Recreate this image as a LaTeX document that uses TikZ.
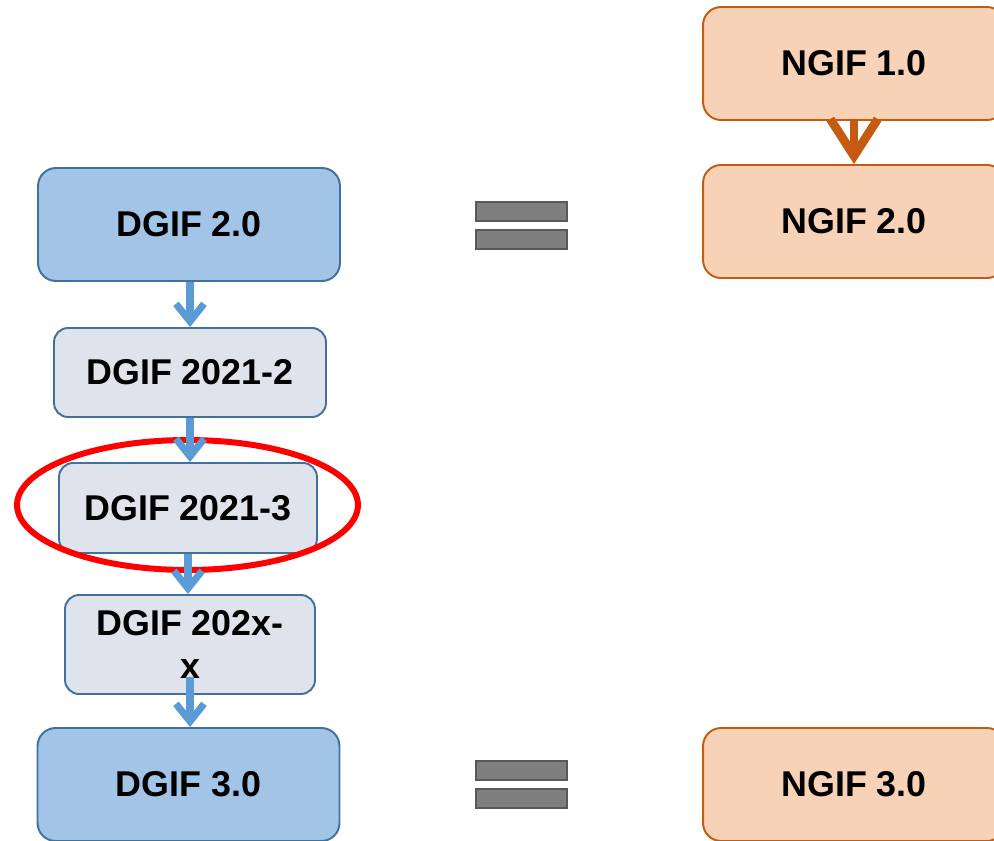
\documentclass[tikz,border=0pt]{standalone}
\usepackage{fontspec}
\setmainfont{Liberation Sans}
\usetikzlibrary{arrows.meta}

\definecolor{dgifblue}{HTML}{A2C4E6}
\definecolor{dgifline}{HTML}{41719C}
\definecolor{dgifgrey}{HTML}{DFE4EC}
\definecolor{ngiffill}{HTML}{F8D2B6}
\definecolor{ngifline}{HTML}{C55A11}
\definecolor{arrowblue}{HTML}{5B9BD5}
\definecolor{eqgrey}{HTML}{7F7F7F}
\definecolor{eqline}{HTML}{595959}

\tikzset{
  box/.style={draw=dgifline, line width=1.1pt, align=center,
    font=\fontsize{20.4}{24}\selectfont\bfseries},
  bigbox/.style={box, fill=dgifblue, rounded corners=0.36cm,
    minimum width=6.04cm, minimum height=2.26cm},
  smallbox/.style={box, fill=dgifgrey, rounded corners=0.28cm},
  ngifbox/.style={box, draw=ngifline, fill=ngiffill, rounded corners=0.36cm,
    minimum width=6.04cm, minimum height=2.26cm},
  eqbar/.style={draw=eqline, fill=eqgrey, line width=1.1pt}
}

\begin{document}
\begin{tikzpicture}[x=0.02cm,y=-0.02cm]

        \useasboundingbox (0,0) rectangle (994,841);
        \clip (0,0) rectangle (994,841);

        % left column
        \node[bigbox] (d1) at (189,224.5) {DGIF 2.0};
        \node[smallbox, minimum width=5.44cm, minimum height=1.78cm] (d2) at (190,372.5) {DGIF 2021-2};
        \node[smallbox, minimum width=5.16cm, minimum height=1.8cm]  (d3) at (188,508)   {DGIF 2021-3};
        \node[smallbox, minimum width=5cm, minimum height=1.98cm]    (d4) at (190,644.5) {DGIF 202x-\\x};
        \node[bigbox] (d5) at (188.5,784.5) {DGIF 3.0};

        % right column
        \node[ngifbox] (n1) at (854,63.5)  {NGIF 1.0};
        \node[ngifbox] (n2) at (854,221.5) {NGIF 2.0};
        \node[ngifbox] (n3) at (854,784.5) {NGIF 3.0};

        % equal signs
        \draw[eqbar] (476,202) rectangle (567,221);
        \draw[eqbar] (476,230) rectangle (567,249);
        \draw[eqbar] (476,761) rectangle (567,780);
        \draw[eqbar] (476,789) rectangle (567,808);

        \draw[red, line width=3.4pt] (187.5,505) ellipse [x radius=3.41cm, y radius=1.3cm];

        \begin{scope}[every path/.style={draw=arrowblue, line width=4pt,
            -{Straight Barb[length=10pt,width=16pt]}}]
          \path (d2.north |- d1.south) -- (d2.north);
          \path (d2.south) -- (d2.south |- d3.north);
          \path (d3.south) -- (d3.south |- d4.north);
          \path ([yshift=10pt]d4.south) -- (d4.south |- d5.north);
        \end{scope}

        \draw[ngifline, line width=5pt, -{Straight Barb[length=21pt,width=27pt]}]
          (n1.south) -- (n2.north);

      \end{tikzpicture}
\end{document}
